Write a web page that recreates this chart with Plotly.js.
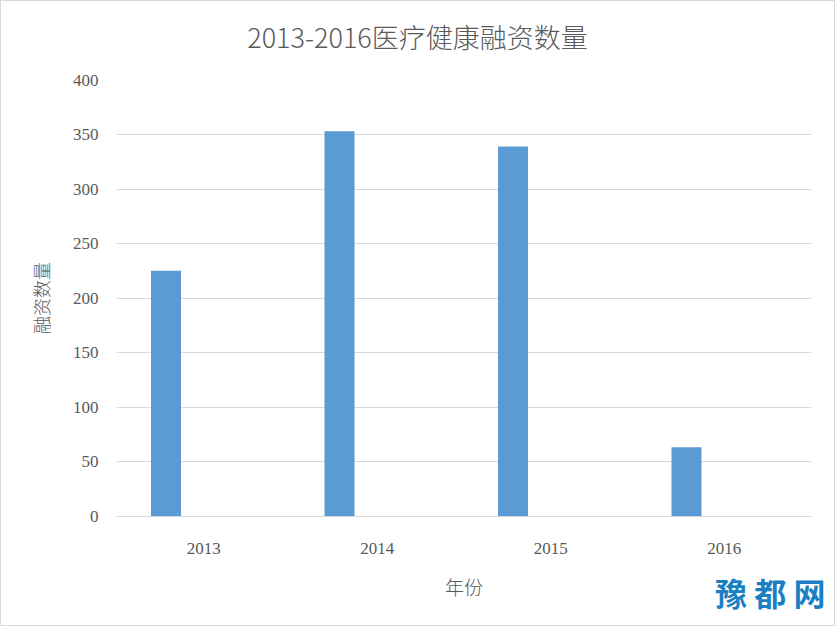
<!DOCTYPE html>
<html>
<head>
<meta charset="utf-8">
<script src="https://cdn.plot.ly/plotly-3.0.1.min.js"></script>
<style>
html,body{margin:0;padding:0;background:#fff;}
#frame{position:absolute;left:0;top:0;width:833px;height:624px;border:1px solid #d9d9d9;}
#chart{width:833px;height:624px;}
</style>
</head>
<body>
<div id="frame"><div id="chart"></div></div>
<script>
const years = ['2013', '2014', '2015', '2016'];
const counts = [225, 353, 339, 63];
const titleText = '2013-2016医疗健康融资数量';
const xTitle = '年份';
const yTitle = '融资数量';
const yTicks = [0, 50, 100, 150, 200, 250, 300, 350, 400];

const cjk = '"Noto Sans CJK SC", "Noto Sans", sans-serif';
const serif = '"Liberation Serif", "DejaVu Serif", serif';

const data = [{
  type: 'bar',
  x: years,
  y: counts,
  width: 0.173,
  offset: -0.304,
  marker: {color: '#5b9bd5'},
  hoverinfo: 'x+y'
}];

const layout = {
  width: 833, height: 624,
  margin: {l: 116, r: 23, t: 79, b: 109},
  paper_bgcolor: '#fff', plot_bgcolor: '#fff',
  showlegend: false,
  title: {text: titleText, x: 0.5, xanchor: 'center', y: 0.94, yanchor: 'middle',
          font: {family: cjk, size: 27, color: '#595959', weight: 300}},
  xaxis: {
    type: 'category',
    showgrid: false, zeroline: false,
    showline: true, linecolor: '#d9d9d9', linewidth: 1,
    ticks: 'outside', ticklen: 17, tickcolor: 'rgba(0,0,0,0)',
    tickfont: {family: serif, size: 17, color: '#595959'},
    title: {text: xTitle, font: {family: cjk, size: 19, color: '#595959', weight: 300}, standoff: 24}
  },
  yaxis: {
    range: [0, 400],
    tickvals: yTicks,
    showgrid: true, gridcolor: '#d9d9d9', gridwidth: 1,
    zeroline: false, showline: false,
    ticks: 'outside', ticklen: 14, tickcolor: 'rgba(0,0,0,0)',
    tickfont: {family: serif, size: 17, color: '#595959'},
    title: {text: yTitle, font: {family: cjk, size: 18, color: '#595959', weight: 300}, standoff: 18}
  },
  annotations: [{
    xref: 'paper', yref: 'paper', x: 1.025, y: -0.175, xanchor: 'right', yanchor: 'middle',
    text: '<b>豫 都 网</b>', showarrow: false,
    font: {family: cjk, size: 32, color: '#1b7fc4'}
  }]
};

Plotly.newPlot('chart', data, layout, {displayModeBar: false, staticPlot: true});
</script>
</body>
</html>
